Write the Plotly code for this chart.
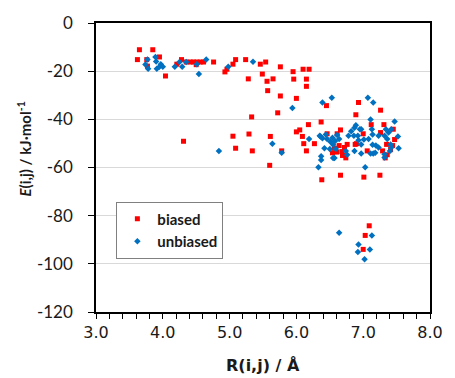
import plotly.graph_objects as go

# biased (red squares)
biased_x = [3.62, 3.65, 3.76, 3.77, 3.85, 3.95, 4.04, 4.21, 4.28, 4.35, 4.41, 4.46, 4.51, 4.56, 4.61,
            4.50, 4.76, 4.93, 4.96, 5.05, 5.09, 5.24, 5.28, 5.33, 5.05, 5.29, 5.09, 5.34, 4.31,
            5.46, 5.54, 5.49, 5.56, 5.65, 5.57, 5.76, 5.76, 5.95, 5.96, 6.00, 6.10, 6.19, 6.15, 6.15,
            5.72, 5.61, 5.78, 6.00, 6.05, 6.09, 6.18, 6.11, 6.15, 6.27, 6.37, 6.45, 6.93, 6.89, 7.26,
            7.31, 7.45, 7.12, 7.00, 6.46, 6.66, 6.61,
            5.60, 6.66, 6.38, 7.01, 7.25, 7.09, 7.03, 7.00,
            6.57, 6.60, 6.64, 6.68, 6.72, 6.69, 6.54, 6.76, 6.88, 7.26, 6.90, 7.06, 7.29, 7.35, 7.36,
            7.44, 7.47, 6.74, 7.33, 7.41]
biased_y = [-15.2, -11.1, -15.2, -17.9, -11.1, -14.1, -22.0, -17.1, -15.2, -16.2, -16.2, -16.2, -16.2, -16.2, -16.2,
            -17.3, -16.2, -20.3, -19.2, -17.1, -15.2, -15.2, -23.2, -39.0, -47.0, -46.1, -52.0, -53.1, -49.1,
            -17.1, -16.2, -21.2, -24.2, -23.2, -28.1, -18.2, -30.3, -20.2, -23.3, -31.3, -19.2, -19.2, -23.3, -26.3,
            -37.3, -47.1, -53.1, -45.2, -44.4, -47.1, -42.2, -50.1, -53.1, -50.1, -41.1, -34.3, -33.0, -38.1, -36.2,
            -42.2, -44.1, -42.2, -46.0, -46.0, -44.4, -46.0,
            -59.1, -63.2, -65.1, -64.0, -63.2, -84.2, -88.2, -94.0,
            -52.0, -53.6, -50.9, -53.4, -51.7, -55.0, -53.9, -50.4, -50.4, -45.5, -50.1, -53.1, -53.1, -50.4, -54.7,
            -50.9, -48.4, -56.0, -56.0, -52.6]

# unbiased (blue diamonds)
unbiased_x = [3.74, 3.77, 3.78, 3.89, 3.90, 3.91, 3.95, 3.97, 4.00, 4.18, 4.25, 4.29, 4.35, 4.51, 4.54,
              4.65, 4.84, 4.98, 5.35,
              5.94, 6.39, 6.53, 7.07, 7.15, 7.11, 7.47, 5.64, 5.78, 6.19, 6.36, 7.52, 7.53, 6.37,
              6.33, 6.42, 6.57, 7.03, 7.32,
              7.13, 6.64, 6.93, 7.10, 6.92, 7.02,
              6.35, 6.39, 6.44, 6.46, 6.51, 6.54, 6.58, 6.61, 6.64, 6.50, 6.55, 6.59, 6.55, 6.78, 6.82,
              6.87, 6.89, 6.92, 6.95, 6.87, 6.74, 6.76,
              6.97, 7.13, 7.34, 7.38, 7.42, 6.86, 6.93, 7.01, 7.08, 7.14, 7.23, 7.32, 7.36,
              6.97, 7.14, 7.19, 7.23, 7.15, 7.11, 7.40, 7.42, 7.41, 7.32, 6.37, 6.97, 7.18]
unbiased_y = [-17.2, -15.2, -19.0, -14.1, -16.0, -19.0, -18.2, -17.1, -18.2, -18.2, -16.2, -18.2, -16.2, -17.1, -21.2,
              -15.2, -53.2, -18.2, -16.1,
              -35.3, -33.0, -31.0, -31.0, -33.0, -40.1, -40.9, -50.1, -53.9, -48.2, -47.1, -47.1, -52.0, -56.9,
              -59.9, -52.0, -56.1, -59.9, -55.8,
              -88.2, -87.1, -92.0, -94.0, -95.1, -98.1,
              -46.8, -47.9, -46.3, -48.2, -49.3, -47.6, -49.0, -46.5, -48.2, -52.3, -50.6, -52.3, -56.1, -46.8, -44.9,
              -43.5, -42.5, -46.8, -44.1, -53.1, -53.1, -54.7,
              -44.1, -44.1, -44.1, -45.5, -44.1, -46.8, -48.7, -48.4, -48.2, -46.3, -46.8, -46.8, -48.2,
              -54.2, -50.6, -50.9, -51.7, -54.2, -54.2, -53.1, -51.7, -50.4, -54.5, -55.3, -50.4, -53.9]

x_ticks = [3.0, 4.0, 5.0, 6.0, 7.0, 8.0]
x_ticklabels = ["3.0", "4.0", "5.0", "6.0", "7.0", "8.0"]
y_ticks = [0, -20, -40, -60, -80, -100, -120]
y_ticklabels = ["0", "-20", "-40", "-60", "-80", "-100", "-120"]

fig = go.Figure()
fig.add_trace(go.Scatter(x=biased_x, y=biased_y, mode="markers", name="biased",
                         marker=dict(symbol="square", size=5, color="#FF0000")))
fig.add_trace(go.Scatter(x=unbiased_x, y=unbiased_y, mode="markers", name="unbiased",
                         marker=dict(symbol="diamond", size=5, color="#0070C0")))

fig.update_layout(
    width=455, height=378,
    margin=dict(l=96, r=15, t=19, b=66),
    paper_bgcolor="white", plot_bgcolor="white",
    showlegend=True,
    legend=dict(x=0.061, y=0.382, xanchor="left", yanchor="top",
                bgcolor="white", bordercolor="#808080", borderwidth=1,
                font=dict(family="Lato", size=15, color="#1a1a1a", weight="bold"),
                itemwidth=30, tracegroupgap=0),
    xaxis=dict(range=[3, 8], tickvals=x_ticks, ticktext=x_ticklabels,
               ticks="outside", ticklen=5, tickcolor="black",
               minor=dict(dtick=0.2, ticks="outside", ticklen=5, tickcolor="black"),
               showline=True, linecolor="black", linewidth=1.5, mirror=True,
               showgrid=False, zeroline=False,
               tickfont=dict(family="DejaVu Sans", size=16, color="#1a1a1a")),
    yaxis=dict(range=[-120, 0], tickvals=y_ticks, ticktext=y_ticklabels,
               ticks="outside", ticklen=6, tickcolor="black",
               showline=True, linecolor="black", linewidth=1.5, mirror=True,
               showgrid=True, gridcolor="#d9d9d9", gridwidth=1, zeroline=False,
               ticklabelstandoff=12,
               tickfont=dict(family="Lato", size=17, color="#1a1a1a")),
    annotations=[
        dict(text="<b><i>E</i>(i,j) / kJ·mol<sup>-1</sup></b>", xref="paper", yref="paper",
             x=-0.215, y=0.563, xanchor="center", yanchor="middle", textangle=-90,
             showarrow=False, font=dict(family="Lato", size=15, color="#1a1a1a")),
        dict(text="<b>R(i,j) / Å</b>", xref="paper", yref="paper",
             x=0.5, y=-0.185, xanchor="center", yanchor="middle",
             showarrow=False, font=dict(family="DejaVu Sans", size=16, color="#1a1a1a")),
    ],
)

fig.write_html("out.html")
